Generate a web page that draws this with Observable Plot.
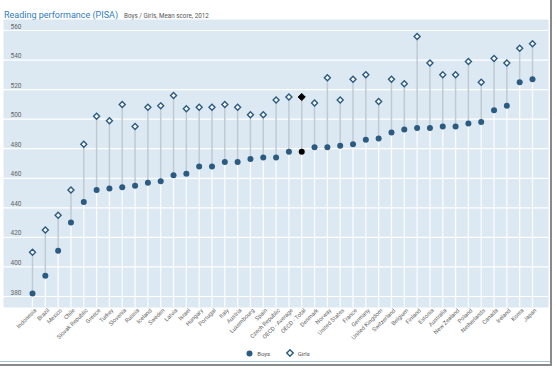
<!DOCTYPE html>
<html>
<head>
<meta charset="utf-8">
<script src="https://cdn.jsdelivr.net/npm/d3@7"></script>
<script src="https://cdn.jsdelivr.net/npm/@observablehq/plot@0.6"></script>
<style>
  html, body { margin: 0; padding: 0; background: #fff; }
  #wrap { position: relative; width: 556px; height: 370px; overflow: hidden; font-family: Roboto, sans-serif; }
  #title { position: absolute; left: 4px; top: 3px; white-space: nowrap; }
  #title .t { color: #2f7cc2; font-size: 9px; }
  #title .s { color: #555; font-size: 6.3px; margin-left: 6px; }
  #chart { position: absolute; left: 0; top: 19px; }
  #legend { position: absolute; left: 0; width: 556px; top: 349px; text-align: center; font-size: 6px; color: #555; }
  #legend span.item { display: inline-flex; align-items: center; margin: 0 7px; }
  #legend svg { margin-right: 4px; }
  #rb { position: absolute; left: 550px; top: 0; width: 2px; height: 366px; background: #8a8a8a; }
  #bb1 { position: absolute; left: 0; top: 361px; width: 550px; height: 1px; background: #a9c3d6; }
  #bb2 { position: absolute; left: 0; top: 364px; width: 552px; height: 2px; background: #8a8a8a; }
</style>
</head>
<body>
<div id="wrap">
  <div id="title"><span class="t">Reading performance (PISA)</span><span class="s">Boys / Girls, Mean score, 2012</span></div>
  <div id="chart"></div>
  <div id="legend">
    <span class="item"><svg width="7" height="7"><circle cx="3.5" cy="3.5" r="3" fill="#2b5b80"/></svg>Boys</span>
    <span class="item"><svg width="8" height="8"><path d="M4,0.8L7.2,4L4,7.2L0.8,4Z" fill="#fff" stroke="#2b5b80" stroke-width="1.4"/></svg>Girls</span>
  </div>
  <div id="rb"></div>
  <div id="bb1"></div>
  <div id="bb2"></div>
</div>
<script>
const countries = ["Indonesia","Brazil","Mexico","Chile","Slovak Republic","Greece","Turkey","Slovenia","Russia","Iceland","Sweden","Latvia","Israel","Hungary","Portugal","Italy","Austria","Luxembourg","Spain","Czech Republic","OECD - Average","OECD - Total","Denmark","Norway","United States","France","Germany","United Kingdom","Switzerland","Belgium","Finland","Estonia","Australia","New Zealand","Poland","Netherlands","Canada","Ireland","Korea","Japan"];
const boys = [382,394,411,430,444,452,453,454,455,457,458,462,463,468,468,471,471,473,474,474,478,478,481,481,482,483,486,487,491,493,494,494,495,495,497,498,506,509,525,527];
const girls = [410,425,435,452,483,502,499,510,495,508,509,516,507,508,508,510,508,503,503,513,515,515,511,528,513,527,530,512,527,524,556,538,530,530,539,525,541,538,548,551];
const yTicks = [380,400,420,440,460,480,500,520,540,560];
const highlight = "OECD - Total";

const data = countries.map((c, i) => ({country: c, boys: boys[i], girls: girls[i]}));
const blue = "#2b5b80";
const yBottom = 380 - 11 / (266 / 180);

const chart = Plot.plot({
  width: 556,
  height: 330,
  marginLeft: 3,
  marginRight: 8,
  marginTop: 0,
  marginBottom: 42,
  style: {fontFamily: "Roboto, sans-serif", background: "transparent", overflow: "visible"},
  x: {type: "point", domain: countries, padding: 0, insetLeft: 29, insetRight: 16, axis: null},
  y: {domain: [380, 560], insetTop: 11, insetBottom: 11, axis: null},
  marks: [
    Plot.frame({fill: "#dde9f2", stroke: null}),
    Plot.ruleY(yTicks, {stroke: "#ffffff", strokeWidth: 1.2}),
    Plot.ruleX(data, {x: "country", y1: yBottom, y2: "boys", stroke: "#ffffff", strokeWidth: 1.3, strokeOpacity: 0.85}),
    Plot.ruleX(data, {x: "country", y1: "boys", y2: "girls", stroke: "#bfcad5", strokeWidth: 1.5}),
    Plot.text(yTicks, {y: d => d, text: d => String(d), frameAnchor: "left", dx: 7, dy: -4, textAnchor: "start", fontSize: 6.5, fill: "#666"}),
    Plot.dot(data.filter(d => d.country !== highlight), {x: "country", y: "boys", r: 3, fill: blue, stroke: null}),
    Plot.dot(data.filter(d => d.country !== highlight), {x: "country", y: "girls", r: 2.7, symbol: "diamond2", fill: "#ffffff", stroke: blue, strokeWidth: 1.4}),
    Plot.dot(data.filter(d => d.country === highlight), {x: "country", y: "boys", r: 3, fill: "#000", stroke: null}),
    Plot.dot(data.filter(d => d.country === highlight), {x: "country", y: "girls", r: 3.2, symbol: "diamond2", fill: "#000", stroke: "#000", strokeWidth: 1}),
    Plot.axisX({tickSize: 0, tickPadding: 2, tickRotate: -45, fontSize: 5.8, fill: "#666", label: null, dx: 3})
  ]
});
document.getElementById("chart").appendChild(chart);
</script>
</body>
</html>
